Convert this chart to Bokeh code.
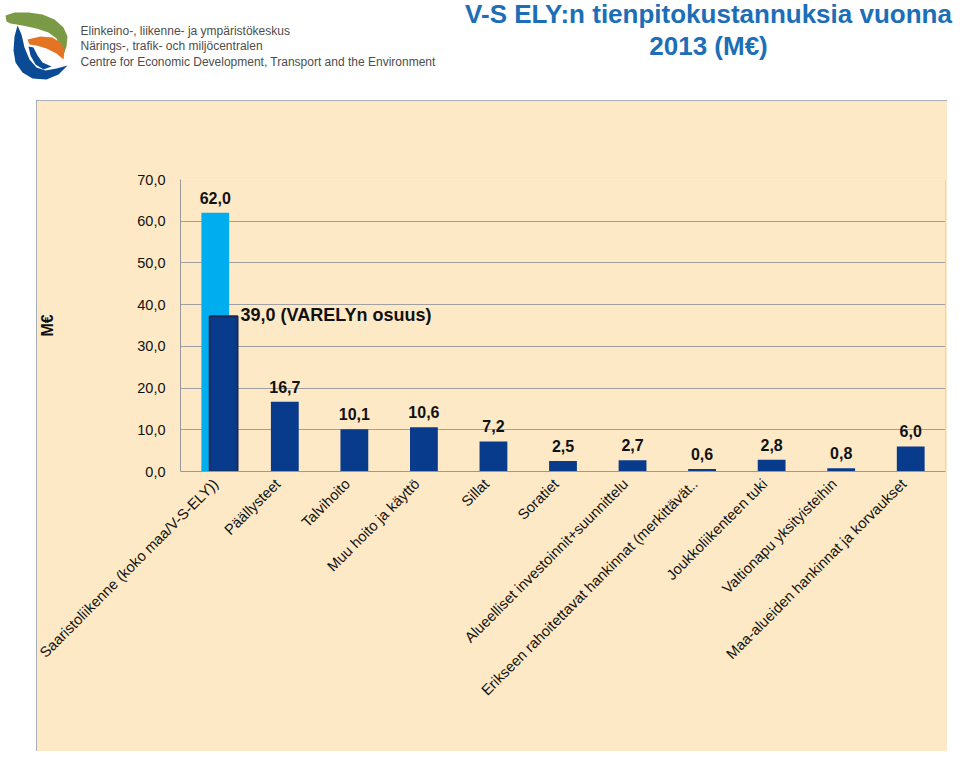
import math
from bokeh.plotting import figure
from bokeh.layouts import column, row
from bokeh.models import (Range1d, FixedTicker, ColumnDataSource, Spacer, LinearAxis)
from bokeh.transform import dodge
from bokeh.core.properties import value
from bokeh.embed import file_html
from bokeh.resources import INLINE

# ---------------- data ----------------
categories = [
    "Saaristoliikenne (koko maa/V-S-ELY))",
    "Päällysteet",
    "Talvihoito",
    "Muu hoito ja käyttö",
    "Sillat",
    "Soratiet",
    "Alueelliset investoinnit+suunnittelu",
    "Erikseen rahoitettavat hankinnat (merkittävät..",
    "Joukkoliikenteen tuki",
    "Valtionapu yksityisteihin",
    "Maa-alueiden hankinnat ja korvaukset",
]
costs = [62.0, 16.7, 10.1, 10.6, 7.2, 2.5, 2.7, 0.6, 2.8, 0.8, 6.0]
cost_labels = ["62,0", "16,7", "10,1", "10,6", "7,2", "2,5", "2,7", "0,6", "2,8", "0,8", "6,0"]
varely_category_index = [0]
varely_bar = [37.2]
varely_label = ["39,0 (VARELYn osuus)"]
y_ticks = [0, 10, 20, 30, 40, 50, 60, 70]
y_tick_labels = ["0,0", "10,0", "20,0", "30,0", "40,0", "50,0", "60,0", "70,0"]
y_axis_title = "M€"
title_lines = ["V-S ELY:n tienpitokustannuksia vuonna", "2013 (M€)"]
logo_lines = [
    "Elinkeino-, liikenne- ja ympäristökeskus",
    "Närings-, trafik- och miljöcentralen",
    "Centre for Economic Development, Transport and the Environment",
]

# ---------------- style ----------------
FONT = "Liberation Sans"
BEIGE = "#FDE9C6"
LIGHT = "#00AEEF"
DARK = "#083B8C"
GRID = "#A0A0A0"
TITLE_BLUE = "#1C6EB7"
BORDER = "#8D9DB6"

# ---------------- header (logo + title) ----------------
HW, HH = 960, 100
head = figure(width=HW, height=HH, x_range=Range1d(0, HW), y_range=Range1d(HH, 0),
              x_axis_type=None, y_axis_type=None, min_border=0,
              output_backend="svg", toolbar_location=None,
              background_fill_color="white", border_fill_color="white",
              outline_line_color=None)
head.grid.visible = False

title_x = [708] * len(title_lines)
title_y = [13, 45]
head.text(x=title_x, y=title_y, text=title_lines, text_align="center",
          text_baseline="middle", text_font=value(FONT), text_font_style="bold",
          text_font_size="26px", text_color=TITLE_BLUE)

logo_x = [80] * len(logo_lines)
logo_y = [30, 45.5, 61]
head.text(x=logo_x, y=logo_y, text=logo_lines, text_align="left",
          text_baseline="middle", text_font=value(FONT), text_font_size="12px",
          text_color="#4D4D4D")

green = [(5, 15), (14, 12), (28, 12), (42, 14), (54, 19), (63, 27), (67, 36), (66, 46), (62, 57),
         (60, 46), (56, 38), (48, 32), (36, 28), (22, 25), (10, 23), (6, 21)]
orange = [(27, 39), (40, 36), (52, 37), (60, 42), (64, 50), (63, 59),
          (56, 53), (46, 48), (36, 45), (29, 44)]
blue1 = [(17, 25), (14, 36), (13, 50), (15, 62), (22, 72), (32, 78), (46, 79), (58, 74),
         (67, 65), (56, 68), (45, 70), (36, 67), (29, 59), (24, 47), (21, 34)]
blue2 = [(28, 46), (33, 47), (37, 55), (42, 62), (51, 66), (43, 69), (35, 64), (30, 55)]
shapes = [green, orange, blue1, blue2]
head.patches(xs=[[a for a, b in s] for s in shapes], ys=[[b for a, b in s] for s in shapes],
             fill_color=["#7A9A45", "#E37424", "#0B4A94", "#0B4A94"], line_color=None)

# ---------------- chart panel ----------------
# panel page box: x 36..946, y 100..751 ; plot area: x 179..944, y 179..471
n = len(categories)
p = figure(
    x_range=Range1d(0, n),
    y_range=Range1d(0, 70),
    x_axis_location=None,
    frame_width=765, frame_height=292,
    min_border_left=143, min_border_right=2,
    min_border_top=79, min_border_bottom=280,
    output_backend="svg", toolbar_location=None,
    background_fill_color=BEIGE, border_fill_color=BEIGE,
    outline_line_color=None,
    styles={"outline": "2px solid " + BORDER, "outline-offset": "-2px"},
)

# category positions (slot centres) and the category axis
slot = [i + 0.5 for i in range(n)]
label_shift = 0.1
p.extra_x_ranges = {"labels": Range1d(label_shift, n + label_shift)}
cat_axis = LinearAxis(x_range_name="labels", ticker=FixedTicker(ticks=slot),
                      major_label_overrides=dict(zip(slot, categories)))
p.add_layout(cat_axis, "below")

p.xgrid.visible = False
p.ygrid.ticker = FixedTicker(ticks=y_ticks)
p.ygrid.grid_line_color = GRID
p.yaxis.ticker = FixedTicker(ticks=y_ticks)
p.yaxis.major_label_overrides = dict(zip(y_ticks, y_tick_labels))
for ax in (cat_axis, p.yaxis[0]):
    ax.axis_line_color = "#999999"
    ax.major_tick_line_color = None
    ax.major_tick_out = 0
    ax.major_tick_in = 0
    ax.minor_tick_line_color = None
    ax.major_label_text_font = FONT
    ax.major_label_text_color = "#111111"
p.yaxis.major_label_text_font_size = "14.5px"
p.yaxis.major_label_standoff = 15
p.yaxis.axis_label = y_axis_title
p.yaxis.axis_label_text_font = FONT
p.yaxis.axis_label_text_font_style = "bold"
p.yaxis.axis_label_text_font_size = "16px"
p.yaxis.axis_label_text_color = "#111111"
p.yaxis.axis_label_standoff = 78
cat_axis.major_label_orientation = math.pi / 4
cat_axis.major_label_text_font_size = "14.7px"
cat_axis.major_label_standoff = 10

colors = [LIGHT] + [DARK] * (n - 1)
src = ColumnDataSource(dict(x=slot, val=costs, lab=cost_labels, col=colors))
p.vbar(x="x", top="val", width=0.4, fill_color="col", line_color=None, source=src)

vsrc = ColumnDataSource(dict(x=[slot[i] for i in varely_category_index], val=varely_bar,
                             lab=varely_label))
p.vbar(x=dodge("x", 0.12), top="val", width=0.4, fill_color=DARK,
       line_color="#1B2A55", line_width=2, source=vsrc)

p.text(x="x", y="val", text="lab", source=src, text_align="center",
       text_baseline="alphabetic", y_offset=-15, text_font=value(FONT),
       text_font_style="bold", text_font_size="16px", text_color="#111111")
p.text(x=dodge("x", 0.32), y="val", text="lab", source=vsrc,
       text_align="left", text_baseline="alphabetic", x_offset=3, y_offset=-1,
       text_font=value(FONT), text_font_style="bold", text_font_size="18px",
       text_color="#111111")

layout = column(head, row(Spacer(width=36, height=651, margin=0), p, margin=0), margin=0)

open("out.html", "w").write(file_html(layout, INLINE))
